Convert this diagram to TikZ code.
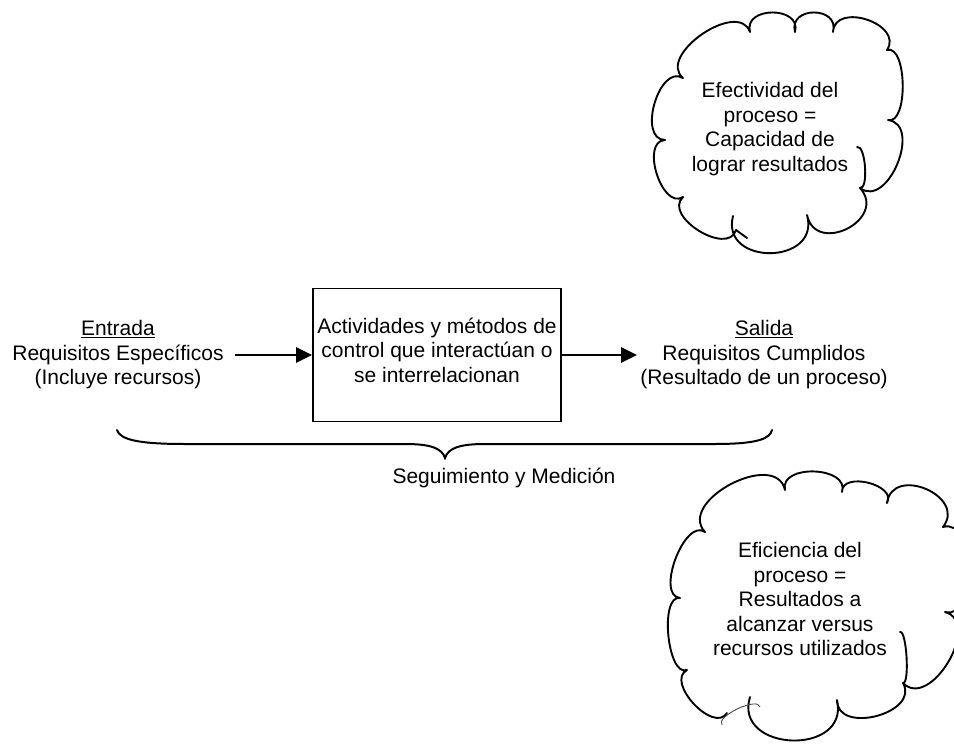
\documentclass[tikz,border=0pt]{standalone}
\usepackage{fontspec}
\setmainfont{Liberation Sans}
\usetikzlibrary{arrows.meta,calc}
\begin{document}
\begin{tikzpicture}[x=1pt,y=-1pt,
  every node/.style={font=\fontsize{21}{24.5}\selectfont, align=center, inner sep=0pt},
  flow/.style={line width=2.7pt, -{Triangle[length=16pt,width=15pt]}},
  procbox/.style={draw, line width=1.9pt, minimum width=248pt, minimum height=133pt},
  outline/.style={line width=1.9pt, line join=round, line cap=round},
  tailarc/.style={line width=0.9pt, black!70},
  bracestroke/.style={line width=2pt, line cap=round},
  % one rounded bump of a cloud, bulging to the left of the travel direction
  puff/.style={to path={.. controls ($(\tikztostart)!#1!105:(\tikztotarget)$)
      and ($(\tikztotarget)!#1!-105:(\tikztostart)$) .. (\tikztotarget)}},
]
\useasboundingbox (0,0) rectangle (954,744);

% input, process and output
\node (entrada) at (118,355) {\underline{Entrada}\\Requisitos Específicos\\(Incluye recursos)};
\node[procbox] (proc) at (437,355) {};
\node (proctext) at (437,350) {Actividades y métodos de\\control que interactúan o\\se interrelacionan};
\node (salida) at (764,355) {\underline{Salida}\\Requisitos Cumplidos\\(Resultado de un proceso)};

\draw[flow, shorten <=11pt] (entrada.east) -- (entrada.east -| proc.west);
\draw[flow, shorten >=3pt] (proc.east) -- (proc.east -| salida.west);

% brace under the whole process
\draw[bracestroke] (117,430) .. controls (120,440) and (140,444) .. (185,444)
  -- (405,444) .. controls (430,444) and (442,448) .. (445,458)
  .. controls (448,448) and (460,444) .. (485,444)
  -- (715,444) .. controls (760,444) and (770,438) .. (772,430);
\node (seg) at (504,478) {Seguimiento y Medición};

% upper cloud
\draw[outline] (747,238) -- (736,230)
  to[puff=28pt] (683,197) to[puff=25pt] (665,140) to[puff=28pt] (683,78)
  to[puff=35pt] (750,32) to[puff=27pt] (795,32) to[puff=27pt] (833,32)
  to[puff=31pt] (887,50) to[puff=21pt] (888,120) to[puff=35pt] (860,188)
  to[puff=42pt] (807,215) to[puff=52pt] (733,216);
\draw[outline] (857,147) to[puff=9pt] (860,188);
\node (efect) at (770,129) {Efectividad del\\proceso =\\Capacidad de\\lograr resultados};

% lower cloud
\draw[outline] (727,713)
  to[puff=25pt] (687,670) to[puff=21pt] (680,598) to[puff=25pt] (705,532)
  to[puff=42pt] (785,490) to[puff=27pt] (842,492) to[puff=21pt] (887,503)
  to[puff=39pt] (943,527) to[puff=35pt] (945,612) to[puff=39pt] (903,683)
  to[puff=35pt] (837,700) to[puff=58pt] (750,697);
\draw[outline] (900,632) to[puff=7pt] (903,683);
\draw[tailarc] (722,725) to[puff=11pt] (760,707);
\node (efic) at (800,599) {Eficiencia del\\proceso =\\Resultados a\\alcanzar versus\\recursos utilizados};
\end{tikzpicture}
\end{document}
